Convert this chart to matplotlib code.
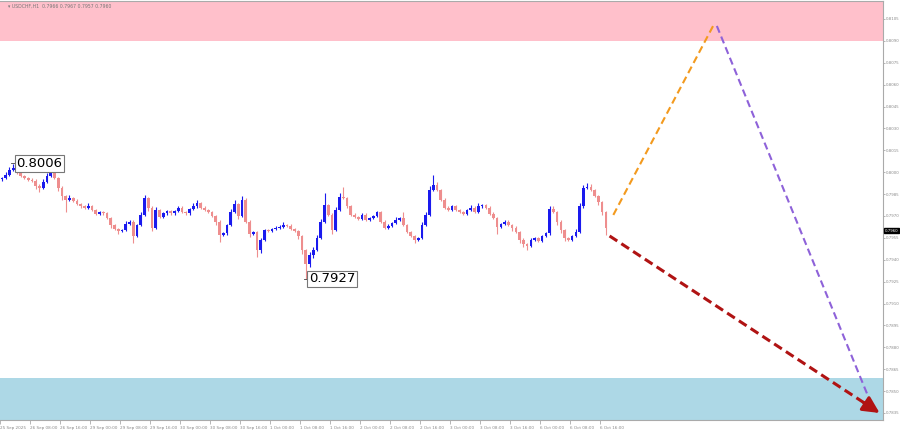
import numpy as np
import matplotlib
matplotlib.use("Agg")
import matplotlib.pyplot as plt

# USDCHF H1 closes (one per hourly bar)
closes = [
    0.79960, 0.79981, 0.80015, 0.80029, 0.80001, 0.79974, 0.79960, 0.79947, 0.79940, 0.79906,
    0.79892, 0.79933, 0.79974, 0.80008, 0.79960, 0.79892, 0.79837, 0.79810, 0.79823, 0.79803,
    0.79782, 0.79768, 0.79755, 0.79768, 0.79741, 0.79714, 0.79727, 0.79720, 0.79686, 0.79638,
    0.79611, 0.79597, 0.79604, 0.79645, 0.79659, 0.79563, 0.79638, 0.79707, 0.79823, 0.79755,
    0.79618, 0.79741, 0.79693, 0.79720, 0.79734, 0.79720, 0.79734, 0.79755, 0.79727, 0.79720,
    0.79748, 0.79768, 0.79789, 0.79755, 0.79741, 0.79727, 0.79700, 0.79659, 0.79570, 0.79583,
    0.79638, 0.79727, 0.79782, 0.79700, 0.79810, 0.79659, 0.79577, 0.79590, 0.79467, 0.79536,
    0.79604, 0.79597, 0.79611, 0.79618, 0.79625, 0.79638, 0.79632, 0.79611, 0.79597, 0.79563,
    0.79467, 0.79371, 0.79433, 0.79467, 0.79549, 0.79659, 0.79775, 0.79707, 0.79604, 0.79741,
    0.79830, 0.79823, 0.79768, 0.79707, 0.79693, 0.79679, 0.79707, 0.79673, 0.79686, 0.79700,
    0.79727, 0.79659, 0.79618, 0.79632, 0.79652, 0.79673, 0.79686, 0.79638, 0.79590, 0.79563,
    0.79536, 0.79549, 0.79638, 0.79707, 0.79878, 0.79912, 0.79878, 0.79810, 0.79755, 0.79741,
    0.79768, 0.79741, 0.79727, 0.79714, 0.79741, 0.79755, 0.79727, 0.79768, 0.79775, 0.79755,
    0.79714, 0.79686, 0.79625, 0.79645, 0.79659, 0.79638, 0.79618, 0.79590, 0.79536, 0.79508,
    0.79494, 0.79536, 0.79549, 0.79529, 0.79563, 0.79583, 0.79748, 0.79727, 0.79659, 0.79604,
    0.79549, 0.79536, 0.79563, 0.79590, 0.79768, 0.79892, 0.79899, 0.79878, 0.79837, 0.79796,
    0.79727, 0.79620,
]
first_open = 0.79950

# wick lengths beyond the body, in pips
wick_up = [
    1, 2, 2, 3, 1, 1, 1, 1, 1, 1, 1, 2, 2, 2, 1, 1, 1, 1, 2, 1,
    1, 1, 1, 2, 1, 1, 1, 1, 1, 1, 1, 1, 1, 2, 1, 1, 1, 2, 2, 1,
    1, 2, 1, 1, 1, 1, 1, 1, 1, 1, 1, 2, 2, 1, 1, 1, 1, 1, 1, 1,
    1, 2, 3, 1, 3, 1, 1, 1, 1, 1, 1, 1, 1, 1, 1, 2, 1, 1, 1, 1,
    1, 1, 2, 2, 2, 2, 8, 1, 1, 2, 3, 7, 1, 1, 1, 1, 1, 1, 1, 1,
    1, 1, 1, 1, 1, 2, 1, 4, 1, 1, 1, 1, 2, 2, 3, 7, 2, 1, 1, 1,
    1, 1, 1, 1, 1, 2, 1, 2, 1, 1, 1, 1, 1, 1, 1, 1, 1, 1, 1, 1,
    1, 1, 1, 1, 1, 1, 2, 2, 1, 1, 1, 1, 1, 2, 2, 2, 3, 2, 1, 1,
    1, 1,
]
wick_dn = [
    1, 1, 1, 1, 1, 1, 1, 1, 1, 2, 3, 1, 1, 1, 1, 2, 3, 8, 1, 1,
    1, 1, 1, 1, 1, 1, 1, 1, 1, 2, 1, 2, 1, 1, 1, 5, 1, 1, 1, 2,
    2, 1, 1, 1, 1, 1, 1, 1, 1, 1, 1, 1, 1, 1, 1, 1, 1, 2, 5, 1,
    1, 1, 1, 2, 1, 1, 2, 1, 5, 2, 1, 1, 1, 1, 1, 1, 1, 1, 1, 2,
    3, 10, 2, 2, 1, 1, 1, 1, 3, 1, 1, 1, 1, 1, 1, 1, 1, 1, 1, 1,
    1, 1, 1, 1, 1, 1, 1, 1, 1, 1, 2, 1, 1, 1, 1, 1, 1, 1, 1, 1,
    1, 1, 1, 1, 1, 1, 1, 1, 1, 1, 1, 1, 5, 1, 1, 1, 2, 1, 2, 2,
    3, 1, 1, 1, 1, 1, 1, 1, 2, 2, 2, 1, 1, 1, 1, 1, 1, 1, 1, 2,
    2, 5,
]

# target zones and forecast wave (bar index, price)
resistance_zone = (0.8090, 0.8118)
support_zone = (0.7830, 0.7859)
orange_x, orange_y = [163, 189.6], [0.79707, 0.81002]
purple_x, purple_y = [190.6, 231], [0.81002, 0.78460]
arrow_x, arrow_y = [162, 234], [0.79563, 0.78350]

tick_labels = ["25 Sep 2025", "26 Sep 08:00", "26 Sep 16:00", "29 Sep 00:00",
               "29 Sep 08:00", "29 Sep 16:00", "30 Sep 00:00", "30 Sep 08:00",
               "30 Sep 16:00", "1 Oct 00:00", "1 Oct 08:00", "1 Oct 16:00",
               "2 Oct 00:00", "2 Oct 08:00", "2 Oct 16:00", "3 Oct 00:00",
               "3 Oct 08:00", "3 Oct 16:00", "6 Oct 00:00", "6 Oct 08:00",
               "6 Oct 16:00"]
price_ticks = [0.8105 - 0.0015 * k for k in range(19)]

closes = np.array(closes)
opens = np.concatenate([[first_open], closes[:-1]])
highs = np.maximum(opens, closes) + np.array(wick_up) * 1e-4
lows = np.minimum(opens, closes) - np.array(wick_dn) * 1e-4
idx = np.arange(len(closes))
up = closes >= opens

fig = plt.figure(figsize=(9, 4.32), dpi=100)
ax = fig.add_axes([0, 12 / 432, 883 / 900, 419 / 432])
ax.set_xlim(-0.53, 234.9)
ax.set_ylim(0.78302, 0.81173)

ax.axhspan(*resistance_zone, color="#ffc0cb", lw=0, zorder=0)
ax.axhspan(*support_zone, color="#add8e6", lw=0, zorder=0)

bull, bear = "#1a1aee", "#ee8e8e"
cols = np.where(up, bull, bear)
ax.vlines(idx, lows, highs, colors=cols, lw=0.8, zorder=2)
body_lo = np.minimum(opens, closes)
body_h = np.maximum(np.abs(closes - opens), 0.00003)
ax.bar(idx, body_h, bottom=body_lo, width=0.7, color=cols, lw=0, zorder=3)

# swing labels
for bar_i, price, txt in [(3, 0.8006, "0.8006"), (81, 0.7927, "0.7927")]:
    ax.plot([bar_i - 0.5, bar_i + 0.8], [price, price], color="#444444", lw=0.6, zorder=4)
    ax.text(bar_i + 0.8, price, txt, fontsize=9.5, va="center", ha="left", zorder=5,
            bbox=dict(boxstyle="square,pad=0.12", fc="white", ec="#777777", lw=0.8))

ax.plot(orange_x, orange_y, color="#f39a1e", lw=1.5, dashes=(3.5, 2), zorder=4)
ax.plot(purple_x, purple_y, color="#8e62d9", lw=1.5, dashes=(3.5, 2), zorder=4)

# dashed red shaft, then a solid head at its tip
red = "#b01313"
ax.plot(arrow_x, arrow_y, color=red, lw=2.2, dashes=(3, 1.6), zorder=5)
head_from = (arrow_x[1] - 0.06 * (arrow_x[1] - arrow_x[0]),
             arrow_y[1] - 0.06 * (arrow_y[1] - arrow_y[0]))
ax.annotate("", xy=(arrow_x[1], arrow_y[1]), xytext=head_from,
            arrowprops=dict(arrowstyle="-|>,head_length=1.0,head_width=0.5",
                            color=red, lw=2.2, shrinkA=0, shrinkB=0), zorder=6)

# axes styling, MT4 like
ax.spines["left"].set_visible(False)
for s in ["right", "top", "bottom"]:
    ax.spines[s].set_color("#aaaaaa")
    ax.spines[s].set_linewidth(0.8)

ax.yaxis.tick_right()
ax.set_yticks(price_ticks)
ax.set_yticklabels([f"{p:.4f}" for p in price_ticks])
ax.tick_params(axis="y", length=1.5, width=0.5, colors="#999999", labelsize=2.8,
               labelcolor="#888888", pad=0.8)

xt = [8 * k - 0.5 for k in range(len(tick_labels))]
ax.set_xticks(xt)
ax.set_xticklabels(tick_labels)
ax.tick_params(axis="x", length=3, width=0.5, colors="#999999", labelsize=3.0,
               labelcolor="#888888", pad=1)
for lab in ax.get_xticklabels():
    lab.set_horizontalalignment("left")

ax.text(1.5, 0.81135, "\u25be USDCHF,H1  0.7966 0.7967 0.7957 0.7960", fontsize=3.3,
        color="#777777", va="center", ha="left")

# current price tag on the price scale
ax.text(1.002, (0.7960 - 0.78302) / (0.81173 - 0.78302), "0.7960", transform=ax.transAxes,
        fontsize=2.8, color="white", va="center", ha="left",
        bbox=dict(boxstyle="square,pad=0.2", fc="black", ec="black"))

fig.savefig("out.png", dpi=100)
